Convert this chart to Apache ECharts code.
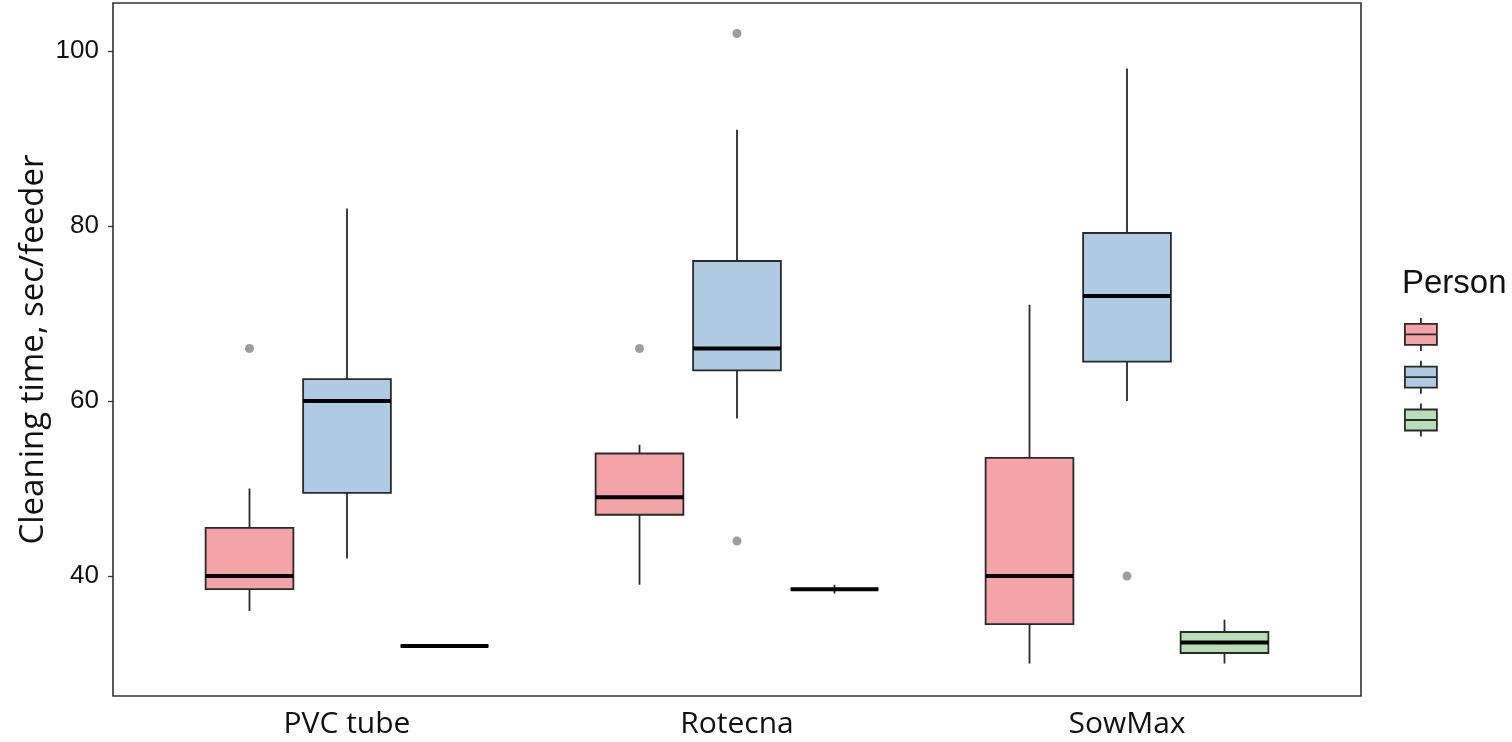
<!DOCTYPE html>
<html><head><meta charset="utf-8">
<script src="https://cdn.jsdelivr.net/npm/echarts@6/dist/echarts.min.js"></script>
<style>html,body{margin:0;padding:0;background:#fff}#c{width:1512px;height:742px}</style>
</head><body><div id="c"></div>
<script>
// ---------------- data ----------------
const categories = ['PVC tube', 'Rotecna', 'SowMax'];
const personNames = ['Person 1', 'Person 2', 'Person 3'];
// [min, Q1, median, Q3, max] per category
const person1Stats = [[36, 38.5, 40, 45.5, 50], [39, 47, 49, 54, 55], [30, 34.5, 40, 53.5, 71]];
const person2Stats = [[42, 49.5, 60, 62.5, 82], [58, 63.5, 66, 76, 91], [60, 64.5, 72, 79.2, 98]];
const person3Stats = [[32, 32, 32, 32, 32], [38, 38.5, 38.5, 38.5, 39], [30, 31.2, 32.4, 33.6, 35]];
// outliers: [categoryIndex, value]
const person1Outliers = [[0, 66], [1, 66]];
const person2Outliers = [[1, 102], [1, 44], [2, 40]];
const person3Outliers = [];
const yTicks = [40, 60, 80, 100];

// ---------------- styling ----------------
const fills = ['#F4A4A6', '#AFCAE3', '#B7DEB6'];
const offsets = [-0.25, 0, 0.25];
const BOX_HALF = 0.1125;
const allStats = [person1Stats, person2Stats, person3Stats];
const allOutliers = [person1Outliers, person2Outliers, person3Outliers];
const EDGE = '#2a2a2a';

function boxRenderer(offset, fill) {
  return function (params, api) {
    const c = api.value(0) + offset;
    const pMin = api.coord([c, api.value(1)]);
    const pQ1 = api.coord([c, api.value(2)]);
    const pMed = api.coord([c, api.value(3)]);
    const pQ3 = api.coord([c, api.value(4)]);
    const pMax = api.coord([c, api.value(5)]);
    const xl = api.coord([c - BOX_HALF, api.value(3)])[0];
    const xr = api.coord([c + BOX_HALF, api.value(3)])[0];
    const lineStyle = { stroke: EDGE, lineWidth: 1.8 };
    return {
      type: 'group',
      children: [
        { type: 'line', shape: { x1: pMax[0], y1: pMax[1], x2: pQ3[0], y2: pQ3[1] }, style: lineStyle },
        { type: 'line', shape: { x1: pQ1[0], y1: pQ1[1], x2: pMin[0], y2: pMin[1] }, style: lineStyle },
        { type: 'rect', shape: { x: xl, y: pQ3[1], width: xr - xl, height: pQ1[1] - pQ3[1] },
          style: { fill: fill, stroke: EDGE, lineWidth: 1.8 } },
        { type: 'line', shape: { x1: xl, y1: pMed[1], x2: xr, y2: pMed[1] },
          style: { stroke: '#000', lineWidth: 4 } }
      ]
    };
  };
}

const series = [];
allStats.forEach(function (stats, p) {
  series.push({
    name: personNames[p],
    type: 'custom',
    xAxisIndex: 0, yAxisIndex: 0,
    itemStyle: { color: fills[p], borderColor: EDGE, borderWidth: 1.8 },
    renderItem: boxRenderer(offsets[p], fills[p]),
    encode: { x: 0, y: [1, 2, 3, 4, 5] },
    data: stats.map(function (s, i) { return [i].concat(s); }),
    silent: true
  });
});
const outlierData = [];
allOutliers.forEach(function (list, p) {
  list.forEach(function (o) { outlierData.push([o[0] + offsets[p], o[1]]); });
});
series.push({
  name: 'outliers', type: 'scatter', xAxisIndex: 0, yAxisIndex: 0,
  symbolSize: 9, itemStyle: { color: '#858585' }, data: outlierData, silent: true
});

const chart = echarts.init(document.getElementById('c'), null, { renderer: 'canvas' });
chart.setOption({
  animation: false,
  backgroundColor: '#fff',
  title: [{
    text: 'Person', left: 1397, top: 262,
    textStyle: { fontFamily: 'Liberation Sans', fontSize: 33, fontWeight: 'normal', color: '#111' }
  }],
  legend: {
    orient: 'vertical', left: 1399, top: 312,
    itemWidth: 32, itemHeight: 33, itemGap: 8,
    icon: 'path://M16 0 V6 M0 6 H32 V27 H0 Z M0 16.5 H32 M16 27 V33',
    itemStyle: { borderColor: EDGE, borderWidth: 1.8 },
    formatter: function () { return ''; },
    selectedMode: false,
    data: personNames
  },
  grid: [
    { left: 113, top: 3, width: 1248, height: 693, show: true, borderColor: '#333', borderWidth: 1.6, backgroundColor: 'transparent' },
    { left: 113, top: 51, width: 1248, height: 525, show: false },
    { left: 152, top: 3, width: 1170, height: 693, show: false }
  ],
  xAxis: [
    { type: 'value', gridIndex: 0, min: -0.6, max: 2.6, show: false },
    { type: 'value', gridIndex: 1, min: 0, max: 1, show: false },
    {
      type: 'category', gridIndex: 2, data: categories, boundaryGap: true,
      axisLine: { show: false },
      axisTick: { alignWithLabel: true, length: 5, lineStyle: { color: '#333', width: 1.3 } },
      axisLabel: { margin: 13, fontFamily: 'Open Sans', fontSize: 30, color: '#111' }
    }
  ],
  yAxis: [
    {
      type: 'value', gridIndex: 0, min: 26.286, max: 105.486,
      axisLine: { show: false }, axisTick: { show: false }, axisLabel: { show: false }, splitLine: { show: false },
      name: 'Cleaning time, sec/feeder', nameLocation: 'middle', nameGap: 63,
      nameTextStyle: { fontFamily: 'Open Sans', fontSize: 33, color: '#111' }
    },
    {
      type: 'value', gridIndex: 1, min: yTicks[0], max: yTicks[yTicks.length - 1], interval: 20,
      axisLine: { show: false }, splitLine: { show: false },
      axisTick: { length: 5, lineStyle: { color: '#333', width: 1.3 } },
      axisLabel: { margin: 14, fontFamily: 'Liberation Sans', fontSize: 26, color: '#111' }
    },
    { type: 'value', gridIndex: 2, show: false }
  ],
  series: series
});
</script></body></html>
